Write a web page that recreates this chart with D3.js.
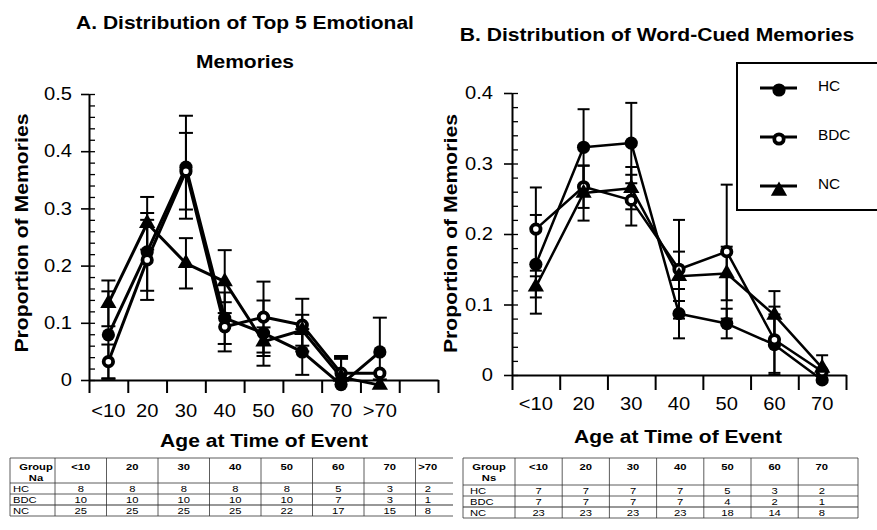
<!DOCTYPE html>
<html><head><meta charset="utf-8">
<script src="https://cdn.jsdelivr.net/npm/d3@7"></script>
<style>
body{margin:0;background:#fff}
svg{display:block}
text{font-family:"Liberation Sans",Arial,Helvetica,sans-serif;fill:#000}
</style>
</head><body>
<svg id="c" width="877" height="530"></svg>
<script>
// ---------- data ----------
const catsA = ["<10","20","30","40","50","60","70",">70"];
const hcA   = [0.079,0.224,0.372,0.108,0.082,0.049,-0.008,0.049];
const bdcA  = [0.032,0.210,0.365,0.093,0.110,0.096,0.012,0.012];
const ncA   = [0.134,0.274,0.204,0.172,0.067,0.087,0.005,-0.009];
const hcAErr  = [0.076,0.068,0.090,0.045,0.057,0.040,0.045,0.060];
const bdcAErr = [0.030,0.070,0.067,0.043,0.062,0.046,0.030,0];
const ncAErr  = [0.040,0.046,0.044,0.055,0.025,0.027,0.035,0.010];

const catsB = ["<10","20","30","40","50","60","70"];
const hcB   = [0.157,0.323,0.329,0.087,0.073,0.043,-0.007];
const bdcB  = [0.207,0.267,0.248,0.150,0.175,0.050,0.005];
const ncB   = [0.125,0.258,0.265,0.140,0.144,0.085,0.010];
const hcBErr  = [0.070,0.054,0.057,0.035,0.021,0.043,0];
const bdcBErr = [0.059,0.030,0.036,0.070,0.095,0.047,0];
const ncBErr  = [0.015,0.039,0.030,0.035,0.038,0.034,0.018];

const groups = ["HC","BDC","NC"];
const yTicksA = [0,0.1,0.2,0.3,0.4,0.5];
const yTicksB = [0,0.1,0.2,0.3,0.4];

const titleA = ["A. Distribution of Top 5 Emotional","Memories"];
const titleB = "B. Distribution of Word-Cued Memories";
const xTitle = "Age at Time of Event";
const yTitle = "Proportion of Memories";

const tableHeadA = ["Group","Na"];
const tableHeadB = ["Group","Ns"];
const nsHCA  = [8,8,8,8,8,5,3,2];
const nsBDCA = [10,10,10,10,10,7,3,1];
const nsNCA  = [25,25,25,25,22,17,15,8];
const nsHCB  = [7,7,7,7,5,3,2];
const nsBDCB = [7,7,7,7,4,2,1];
const nsNCB  = [23,23,23,23,18,14,8];

// ---------- helpers ----------
const svg = d3.select("#c");
function txt(g, str, x, y, o){
  return g.append("text")
    .attr("transform", `translate(${x},${y})` + (o.rotate ? ` rotate(${o.rotate})` : "") + ` scale(${o.sx||1},1)`)
    .attr("text-anchor", o.anchor || "middle")
    .style("font-size", o.size + "px")
    .style("font-weight", o.weight || "normal")
    .text(str);
}
const types = {HC:"filled", BDC:"open", NC:"tri"};
function marker(g, type, X, Y){
  if (type === "filled") g.append("circle").attr("cx",X).attr("cy",Y).attr("r",6.6).attr("fill","#000");
  else if (type === "open") g.append("circle").attr("cx",X).attr("cy",Y).attr("r",4.7)
      .attr("fill","#fff").attr("stroke","#000").attr("stroke-width",3.8);
  else g.append("path").attr("transform",`translate(${X},${Y})`)
      .attr("d", d3.symbol(d3.symbolTriangle, 115)()).attr("fill","#000");
}

// ---------- panels ----------
function drawPanel(o){
  const g = svg.append("g");
  const step = (o.x1 - o.x0) / o.slots;
  const x = d3.scaleBand().domain(o.cats).range([o.x0, o.x0 + step * o.cats.length]);
  const xe = d3.scaleLinear().domain([0, o.slots]).range([o.x0, o.x1]);
  const y = d3.scaleLinear().domain([0, o.yMax]).range([o.y0, o.yTop]);
  const cx = c => x(c) + x.bandwidth() / 2;

  // minor ticks (inside)
  g.append("g").attr("transform", `translate(${o.x0},0)`)
    .call(d3.axisRight(y).tickValues(d3.range(0, o.yMax + 1e-9, 0.02)).tickSize(6).tickSizeOuter(0).tickFormat(""))
    .call(s => s.select(".domain").remove())
    .call(s => s.selectAll("line").attr("stroke","#000").attr("stroke-width",1.3));
  // major ticks (outside) + axis line
  g.append("g").attr("transform", `translate(${o.x0},0)`)
    .call(d3.axisLeft(y).tickValues(o.yTicks).tickSize(8).tickSizeOuter(0).tickFormat(""))
    .call(s => s.select(".domain").attr("stroke","#000").attr("stroke-width",2))
    .call(s => s.selectAll("line").attr("stroke","#000").attr("stroke-width",1.6));
  // x axis with ticks at band edges
  g.append("g").attr("transform", `translate(0,${o.y0})`)
    .call(d3.axisBottom(xe).tickValues(d3.range(o.slots + 1)).tickSize(o.xTick).tickSizeOuter(0).tickFormat(""))
    .call(s => s.select(".domain").attr("stroke","#000").attr("stroke-width",2))
    .call(s => s.selectAll("line").attr("stroke","#000").attr("stroke-width",2));

  // y tick labels
  o.yTicks.forEach(v => txt(g, v === 0 ? "0" : d3.format(".1f")(v), o.x0 - o.yLabGap, y(v) + 6.2,
      {size:17.5, anchor:"end", sx:1.15}));
  // x tick labels
  o.cats.forEach(c => txt(g, c, cx(c), o.xLabY, {size:17.5, sx:1.15}));

  // axis titles
  txt(g, xTitle, o.xTitleX, o.xTitleY, {size:18, weight:"bold", sx:1.17});
  txt(g, yTitle, o.yTitleX, o.yTitleY, {size:18.6, weight:"bold", sx:1.14, rotate:-90});

  const ser = [
    {name:"HC", vals:o.hc, err:o.hcErr},
    {name:"BDC", vals:o.bdc, err:o.bdcErr},
    {name:"NC", vals:o.nc, err:o.ncErr}
  ];
  const line = d3.line().x((d,i) => cx(o.cats[i])).y(d => y(d));
  ser.forEach(s => g.append("path").datum(s.vals).attr("d", line)
      .attr("fill","none").attr("stroke","#000").attr("stroke-width",o.lw).attr("stroke-linejoin","round"));
  ser.forEach(s => s.vals.forEach((v,i) => {
    const e = s.err[i]; if (!e) return;
    const X = cx(o.cats[i]);
    const lo = Math.max(v - e, 0), hi = v + e;
    g.append("line").attr("x1",X).attr("x2",X).attr("y1",y(lo)).attr("y2",y(hi))
      .attr("stroke","#000").attr("stroke-width",2);
    const capsAt = (v - e >= 0) ? [v - e, hi] : [hi];
    capsAt.forEach(t => g.append("line").attr("x1",X-o.cap/2).attr("x2",X+o.cap/2)
      .attr("y1",y(t)).attr("y2",y(t)).attr("stroke","#000").attr("stroke-width",2));
  }));
  ser.forEach(s => s.vals.forEach((v,i) => marker(g, types[s.name], cx(o.cats[i]), y(v))));
  return {x, y};
}

drawPanel({cats:catsA, slots:9, x0:89, x1:438, y0:380, yTop:94, yMax:0.5, yTicks:yTicksA,
  hc:hcA, bdc:bdcA, nc:ncA, hcErr:hcAErr, bdcErr:bdcAErr, ncErr:ncAErr,
  xTick:13, yLabGap:17, xLabY:416.5, xTitleX:264, xTitleY:447, yTitleX:28, yTitleY:233, lw:3, cap:14});
drawPanel({cats:catsB, slots:7, x0:512, x1:846, y0:375, yTop:93, yMax:0.4, yTicks:yTicksB,
  hc:hcB, bdc:bdcB, nc:ncB, hcErr:hcBErr, bdcErr:bdcBErr, ncErr:ncBErr,
  xTick:15, yLabGap:19, xLabY:410, xTitleX:678, xTitleY:443, yTitleX:457, yTitleY:233.5, lw:2.5, cap:12});

// titles
const tg = svg.append("g");
txt(tg, titleA[0], 245, 28.5, {size:18.6, weight:"bold", sx:1.13});
txt(tg, titleA[1], 245, 67.5, {size:18.6, weight:"bold", sx:1.13});
txt(tg, titleB, 657, 40.5, {size:18.6, weight:"bold", sx:1.135});

// legend
const lg = svg.append("g");
lg.append("rect").attr("x",737).attr("y",63).attr("width",150).attr("height",147)
  .attr("fill","#fff").attr("stroke","#000").attr("stroke-width",2);
const legY = d3.scalePoint().domain(groups).range([88, 186]);
groups.forEach(gn => {
  const ly = legY(gn);
  lg.append("line").attr("x1",760).attr("x2",797).attr("y1",ly).attr("y2",ly)
    .attr("stroke","#000").attr("stroke-width",3);
  marker(lg, types[gn], 779, ly + (gn === "NC" ? 5 : 2));
  txt(lg, gn, 818, ly + 2.5, {size:14, anchor:"start", sx:1.1});
});

// ---------- tables ----------
function drawTable(o){
  const g = svg.append("g");
  const xt = d3.scaleBand().domain(o.cats).range([o.firstRight, o.firstRight + o.colW * o.cats.length]);
  const edges = o.cats.map(c => xt(c));
  edges.push(o.lastEdge);
  const centers = o.cats.map((c,i) => (edges[i] + edges[i+1]) / 2);
  const top = o.rowLines[0], bot = o.rowLines[o.rowLines.length - 1];
  o.rowLines.forEach((yy,i) => g.append("line").attr("x1",o.left).attr("x2",o.lineRight)
    .attr("y1",yy).attr("y2",yy).attr("stroke","#333").attr("stroke-width", i === 3 ? 1.2 : 0.8));
  const vx = [o.left, o.firstRight].concat(edges.slice(1, o.cats.length));
  if (o.borderRight) vx.push(o.borderRight);
  vx.forEach(xx => g.append("line").attr("x1",xx).attr("x2",xx).attr("y1",top).attr("y2",bot)
    .attr("stroke","#333").attr("stroke-width",0.8));
  const fs = 9.5, sx = 1.18;
  txt(g, o.head[0], o.headCx, o.textY[0], {size:fs, weight:"bold", sx});
  txt(g, o.head[1], o.headCx, o.textY[1], {size:fs, weight:"bold", sx});
  o.cats.forEach((c,i) => txt(g, c, centers[i], o.textY[0], {size:fs, weight:"bold", sx}));
  o.rows.forEach((r,ri) => {
    txt(g, groups[ri], o.labelX, o.textY[ri+2], {size:fs, anchor:"start", sx});
    r.forEach((v,i) => txt(g, String(v), centers[i], o.textY[ri+2], {size:fs, sx}));
  });
}
drawTable({cats:catsA, head:tableHeadA, rows:[nsHCA, nsBDCA, nsNCA],
  left:10, firstRight:55, colW:51.5, lastEdge:440, lineRight:453, borderRight:null,
  rowLines:[458, 483, 494, 505, 516], textY:[470.4, 481.4, 491.9, 502.9, 513.9],
  headCx:36, labelX:13});
drawTable({cats:catsB, head:tableHeadB, rows:[nsHCB, nsBDCB, nsNCB],
  left:463, firstRight:515, colW:47.2, lastEdge:845.4, lineRight:858, borderRight:858,
  rowLines:[458, 485, 496, 507, 518], textY:[470.4, 481.4, 493.9, 504.9, 515.9],
  headCx:489, labelX:470});
</script>
</body></html>
